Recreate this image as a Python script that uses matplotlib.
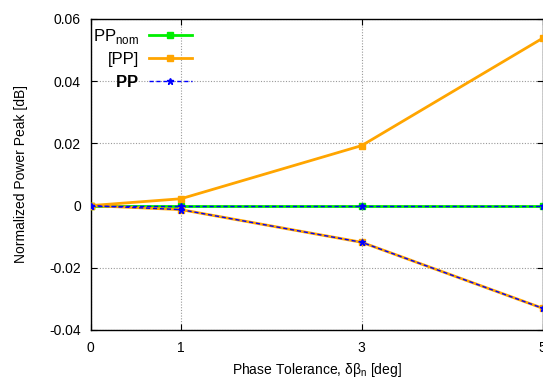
import matplotlib

matplotlib.use("Agg")
import matplotlib.pyplot as plt

plt.rcParams["font.family"] = ["Liberation Sans", "DejaVu Sans"]
plt.rcParams["mathtext.fontset"] = "custom"
plt.rcParams["mathtext.rm"] = "Liberation Sans"
plt.rcParams["mathtext.bf"] = "Liberation Sans:bold"

tolerance = [0, 1, 3, 5]
pp_nom = [0.0, 0.0, 0.0, 0.0]
pp_upper = [0.0, 0.0022, 0.0193, 0.0538]
pp_lower = [0.0, -0.0013, -0.0118, -0.0330]
pp = [0.0, -0.0013, -0.0118, -0.0330]

fig = plt.figure(figsize=(5.43, 3.8), dpi=100)
ax = fig.add_axes([0.1667, 0.1316, 0.8325, 0.8184])

ax.plot(tolerance, pp_nom, color="#00ee00", linewidth=2, marker="s", markersize=4,
        label=r"PP$_{\mathrm{nom}}$", zorder=3)
ax.plot(tolerance, pp_upper, color="#ffa500", linewidth=2, marker="s", markersize=4,
        label="[PP]", zorder=4)
ax.plot(tolerance, pp_lower, color="#ffa500", linewidth=2, marker="s", markersize=4, zorder=4)
ax.plot(tolerance, pp, color="#0000ff", linewidth=1, linestyle=(0, (3, 2)), marker="*",
        markersize=5, label=r"$\mathbf{PP}$", zorder=5)
ax.plot(tolerance, pp_nom, color="#0000ff", linewidth=1, linestyle=(0, (3, 2)), marker="*",
        markersize=5, zorder=5)

ax.set_xlim(0, 5)
ax.set_ylim(-0.04, 0.06)
ax.set_xticks([0, 1, 3, 5])
ax.set_yticks([-0.04, -0.02, 0, 0.02, 0.04, 0.06])
ax.set_yticklabels(["-0.04", "-0.02", "0", "0.02", "0.04", "0.06"])
ax.tick_params(direction="in", top=True, right=True, labelsize=10, length=4)
ax.tick_params(axis="y", pad=7)
ax.tick_params(axis="x", pad=8)
ax.grid(True, color="#999999", linestyle=(0, (1, 1.5)), linewidth=0.8)
for spine in ax.spines.values():
    spine.set_linewidth(1)

ax.set_xlabel("Phase Tolerance, δβ$_{\\mathrm{n}}$ [deg]", fontsize=10, labelpad=4)
ax.set_ylabel("Normalized Power Peak [dB]", fontsize=10, labelpad=6)
ax.yaxis.set_label_coords(-0.138, 0.5)

leg = ax.legend(loc="upper left", frameon=False, markerfirst=False, fontsize=12,
                handlelength=2.6, handletextpad=0.6, borderaxespad=0.0,
                labelspacing=0.4, bbox_to_anchor=(-0.01, 0.997))
for text in leg.get_texts():
    text.set_ha("right")

fig.savefig("out.png", dpi=100)
